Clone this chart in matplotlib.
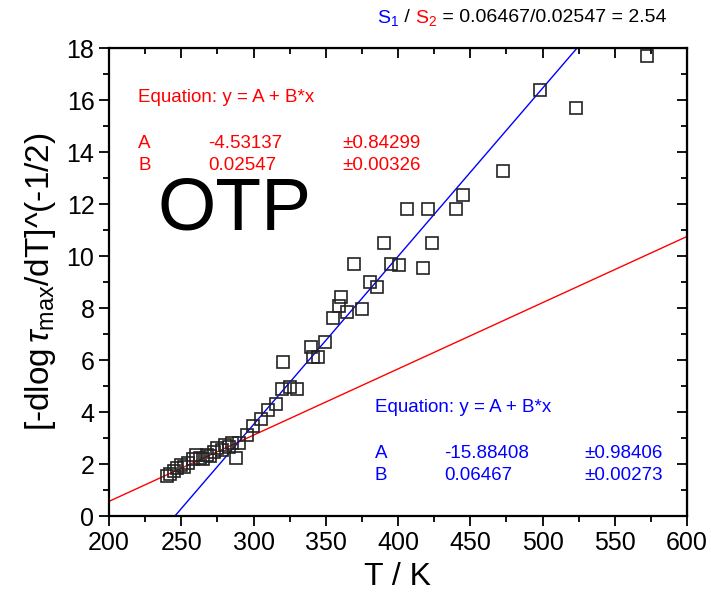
import numpy as np
import matplotlib.pyplot as plt
from matplotlib.ticker import MultipleLocator

plt.rcParams['font.family'] = ['Liberation Sans', 'DejaVu Sans']
plt.rcParams['mathtext.fontset'] = 'custom'
plt.rcParams['mathtext.rm'] = 'Liberation Sans'
plt.rcParams['mathtext.it'] = 'Liberation Sans:italic'

# ------------------------------------------------------------------
# data
# ------------------------------------------------------------------
T = [240, 242, 245, 247, 250, 252, 255, 258, 260, 263,
     265, 268, 270, 273, 275, 278, 280, 283, 285, 288,
     290, 295.3, 299.9, 305.2, 309.8, 315.4, 319.5, 325.3, 329.9, 320.6,
     339.8, 341.4, 344.9, 349.5, 354.8, 360.5, 359.3, 364.9, 375.3, 369.5,
     380.6, 385.2, 390.3, 395.2, 400.7, 417.0, 406.4, 420.5, 423.8, 440.4,
     444.8, 473.0, 498.0, 523.0, 572.5]
Y = [1.55, 1.6, 1.75, 1.85, 1.95, 1.9, 2.05, 2.2, 2.35, 2.25,
     2.2, 2.35, 2.3, 2.45, 2.6, 2.55, 2.75, 2.65, 2.8, 2.22,
     2.8, 3.12, 3.46, 3.73, 4.08, 4.31, 4.87, 4.95, 4.87, 5.93,
     6.51, 6.1, 6.1, 6.68, 7.6, 8.43, 8.08, 7.86, 7.95, 9.69,
     9.0, 8.8, 10.51, 9.68, 9.65, 9.53, 11.81, 11.81, 10.49, 11.81,
     12.33, 13.28, 16.38, 15.7, 17.69]

# linear fits given in the figure
A_red, B_red = -4.53137, 0.02547
A_blue, B_blue = -15.88408, 0.06467
err_red = ['±0.84299', '±0.00326']
err_blue = ['±0.98406', '±0.00273']

# ------------------------------------------------------------------
# figure
# ------------------------------------------------------------------
W, H = 711, 597
fig = plt.figure(figsize=(W / 100, H / 100), dpi=100)
ax = fig.add_axes([109 / W, 1 - 516 / H, (687 - 109) / W, (516 - 48) / H])

xx = np.array([200, 600])
ax.plot(xx, A_red + B_red * xx, color='#ff0000', lw=1)
ax.plot(xx, A_blue + B_blue * xx, color='#0000ff', lw=1)
ax.plot(T, Y, 's', ms=8.5, mfc='none', mec='#222222', mew=1.2)

ax.set_xlim(200, 600)
ax.set_ylim(0, 18)
ax.xaxis.set_major_locator(MultipleLocator(50))
ax.xaxis.set_minor_locator(MultipleLocator(25))
ax.yaxis.set_major_locator(MultipleLocator(2))
ax.yaxis.set_minor_locator(MultipleLocator(1))
ax.tick_params(which='both', direction='out', width=1.3, labelsize=18)
ax.tick_params(which='major', length=7)
ax.tick_params(which='minor', length=4)
for sp in ax.spines.values():
    sp.set_linewidth(1.6)

# mirrored ticks on top/right pointing inside
top = ax.secondary_xaxis('top')
top.xaxis.set_major_locator(MultipleLocator(50))
top.xaxis.set_minor_locator(MultipleLocator(25))
top.tick_params(which='both', direction='in', width=1.3, labeltop=False)
top.tick_params(which='major', length=7)
top.tick_params(which='minor', length=4)
right = ax.secondary_yaxis('right')
right.yaxis.set_major_locator(MultipleLocator(2))
right.yaxis.set_minor_locator(MultipleLocator(1))
right.tick_params(which='both', direction='in', width=1.3, labelright=False)
right.tick_params(which='major', length=7)
right.tick_params(which='minor', length=4)

ax.set_xlabel('T / K', fontsize=23, labelpad=5)
ax.set_ylabel(r'[-dlog$\,\mathit{\tau}_{\mathrm{max}}$/dT]^(-1/2)', fontsize=24, labelpad=6)

# big sample label
fig.text(235 / W, 1 - 210 / H, 'OTP', fontsize=54, ha='center', va='center')

# fit annotations
def fx(px):
    return px / W

def fy(py):
    return 1 - py / H

fs = 13.5
red = '#ff0000'
fig.text(fx(138), fy(97), 'Equation: y = A + B*x', color=red, fontsize=fs, va='center')
fig.text(fx(138), fy(143), 'A', color=red, fontsize=fs, va='center')
fig.text(fx(208), fy(143), '%.5f' % A_red, color=red, fontsize=fs, va='center')
fig.text(fx(342), fy(143), err_red[0], color=red, fontsize=fs, va='center')
fig.text(fx(138), fy(166), 'B', color=red, fontsize=fs, va='center')
fig.text(fx(208), fy(166), '%.5f' % B_red, color=red, fontsize=fs, va='center')
fig.text(fx(342), fy(166), err_red[1], color=red, fontsize=fs, va='center')

blue = '#0000ff'
fig.text(fx(375), fy(407), 'Equation: y = A + B*x', color=blue, fontsize=fs, va='center')
fig.text(fx(375), fy(453), 'A', color=blue, fontsize=fs, va='center')
fig.text(fx(444), fy(453), '%.5f' % A_blue, color=blue, fontsize=fs, va='center')
fig.text(fx(584), fy(453), err_blue[0], color=blue, fontsize=fs, va='center')
fig.text(fx(375), fy(476), 'B', color=blue, fontsize=fs, va='center')
fig.text(fx(444), fy(476), '%.5f' % B_blue, color=blue, fontsize=fs, va='center')
fig.text(fx(584), fy(476), err_blue[1], color=blue, fontsize=fs, va='center')

# coloured title built piece by piece
pieces = [(r'S$_1$', blue), (' / ', 'black'), (r'S$_2$', red),
          (' = %.5f/%.5f = %.2f' % (B_blue, B_red, B_blue / B_red), 'black')]
renderer = fig.canvas.get_renderer()
x0 = fx(377)
for s, c in pieces:
    t = fig.text(x0, fy(18), s, color=c, fontsize=14, va='center')
    bb = t.get_window_extent(renderer)
    x0 += bb.width / fig.bbox.width

fig.savefig('out.png', dpi=100)
